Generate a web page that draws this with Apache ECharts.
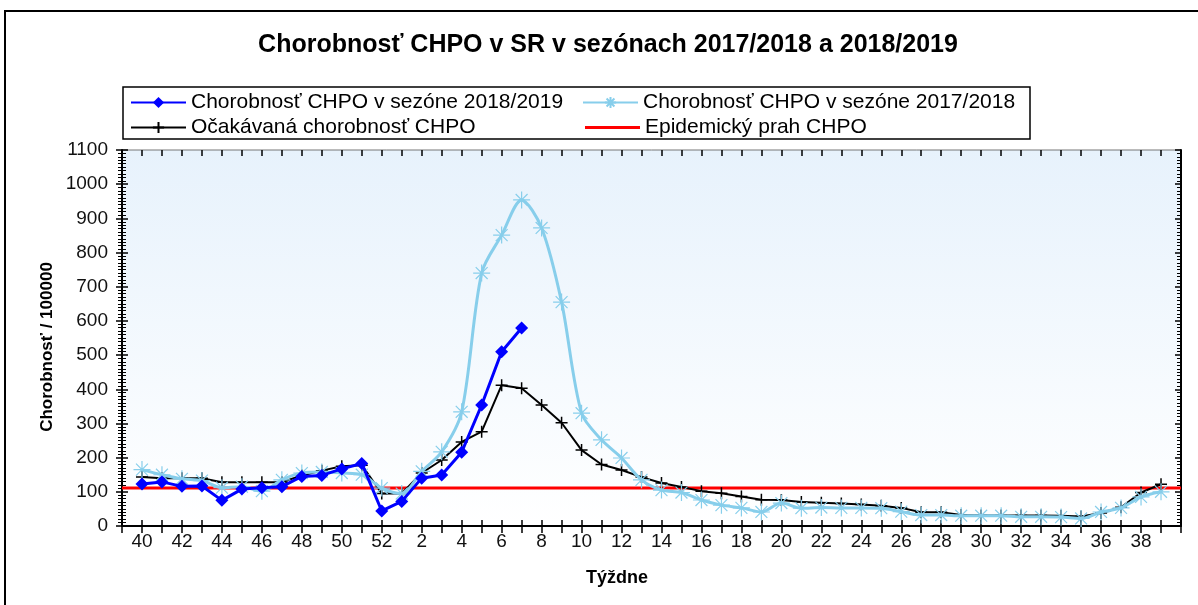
<!DOCTYPE html>
<html>
<head>
<meta charset="utf-8">
<script src="https://cdn.jsdelivr.net/npm/echarts@6/dist/echarts.min.js"></script>
<style>
  html, body { margin: 0; padding: 0; background: #fff; }
  #chart { width: 1198px; height: 605px; }
</style>
</head>
<body>
<div id="chart"></div>
<script>
// week labels, season runs from week 40 to week 39
const weeks = [40, 41, 42, 43, 44, 45, 46, 47, 48, 49, 50, 51, 52,
    1, 2, 3, 4, 5, 6, 7, 8, 9, 10, 11, 12, 13, 14, 15, 16, 17, 18, 19, 20,
    21, 22, 23, 24, 25, 26, 27, 28, 29, 30, 31, 32, 33, 34, 35, 36, 37, 38, 39];

// Chorobnosť CHPO v sezóne 2018/2019 (up to week 7)
const season1819 = [123, 129, 116, 117, 75, 108, 112, 115, 145, 148, 167, 183, 44,
    72, 140, 149, 216, 354, 510, 579];

// Chorobnosť CHPO v sezóne 2017/2018
const season1718 = [165, 150, 138, 133, 112, 115, 102, 135, 155, 158, 155, 150, 111,
    95, 160, 217, 334, 740, 851, 954, 872, 655, 330, 252, 199, 135, 105, 98, 76, 61,
    53, 41, 67, 52, 54, 53, 53, 52, 42, 32, 32, 30, 30, 30, 27, 27, 26, 22, 41, 53, 85, 100];

// Očakávaná chorobnosť CHPO
const expected = [143, 140, 140, 140, 128, 128, 128, 128, 148, 162, 175, 178, 95,
    95, 155, 193, 246, 276, 412, 403, 354, 302, 222, 180, 164, 143, 126, 114, 102, 96,
    86, 77, 76, 70, 68, 66, 63, 59, 53, 40, 40, 32, 31, 31, 31, 31, 30, 28, 38, 55, 98, 122];

// Epidemický prah CHPO
const threshold = 111;

const yTicks = { min: 0, max: 1100, interval: 100 };

const names = [
    'Chorobnosť CHPO v sezóne 2018/2019',
    'Chorobnosť CHPO v sezóne 2017/2018',
    'Očakávaná chorobnosť CHPO',
    'Epidemický prah CHPO'
];

const xMin = -1, xMax = weeks.length;
const toPairs = arr => arr.map((v, i) => [i, v]);

const myChart = echarts.init(document.getElementById('chart'));

const legendCommon = {
    orient: 'horizontal',
    itemWidth: 55,
    itemHeight: 14,
    padding: 0,
    selectedMode: false,
    textStyle: { fontFamily: 'Arial', fontSize: 21, color: '#000' }
};

const xCommon = {
    type: 'value',
    min: xMin,
    max: xMax,
    interval: 1,
    splitLine: { show: false }
};

const yCommon = {
    type: 'value',
    min: yTicks.min,
    max: yTicks.max,
    interval: yTicks.interval,
    splitLine: { show: false }
};

const tickStyle = { color: '#000', width: 1.5 };
const minorStyle = { color: '#000', width: 1 };

const option = {
    animation: false,
    textStyle: { fontFamily: 'Arial' },
    graphic: [
        {
            type: 'rect',
            shape: { x: 5, y: 11, width: 1250, height: 650 },
            style: { fill: 'none', stroke: '#000', lineWidth: 2 },
            silent: true
        },
        {
            type: 'rect',
            shape: { x: 123, y: 87, width: 907, height: 52 },
            style: { fill: 'none', stroke: '#000', lineWidth: 1.5 },
            silent: true
        },
        {
            type: 'text',
            x: 608,
            y: 45,
            style: {
                text: 'Chorobnosť CHPO v SR v sezónach 2017/2018 a 2018/2019',
                font: 'bold 25px Arial',
                fill: '#000',
                align: 'center',
                verticalAlign: 'middle'
            }
        },
        {
            type: 'text',
            x: 617,
            y: 578,
            style: {
                text: 'Týždne',
                font: 'bold 18px Arial',
                fill: '#000',
                align: 'center',
                verticalAlign: 'middle'
            }
        },
        {
            type: 'text',
            x: 47,
            y: 347,
            rotation: Math.PI / 2,
            style: {
                text: 'Chorobnosť / 100000',
                font: 'bold 17px Arial',
                fill: '#000',
                align: 'center',
                verticalAlign: 'middle'
            }
        }
    ],
    legend: [
        Object.assign({ data: [names[0]], left: 130, top: 92 }, legendCommon),
        Object.assign({ data: [names[1]], left: 582, top: 92 }, legendCommon),
        Object.assign({ data: [names[2]], left: 130, top: 117 }, legendCommon),
        Object.assign({}, legendCommon, {
            data: [{ name: names[3], icon: 'rect' }],
            left: 585,
            top: 117,
            itemHeight: 3
        })
    ],
    grid: {
        left: 122,
        right: 17,
        top: 150,
        bottom: 79,
        show: true,
        borderColor: '#777',
        borderWidth: 1,
        backgroundColor: {
            type: 'linear', x: 0, y: 0, x2: 0, y2: 1,
            colorStops: [
                { offset: 0, color: '#e7f2fc' },
                { offset: 1, color: '#ffffff' }
            ]
        }
    },
    xAxis: [
        Object.assign({
            position: 'bottom',
            axisLine: { show: true, onZero: false, lineStyle: { color: '#000', width: 2 } },
            axisTick: { show: true, length: 7, lineStyle: tickStyle },
            axisLabel: {
                margin: 6,
                fontSize: 19,
                color: '#111',
                showMinLabel: true,
                showMaxLabel: true,
                formatter: v => (v >= 0 && v < weeks.length && v % 2 === 0) ? String(weeks[v]) : ''
            }
        }, xCommon),
        Object.assign({
            position: 'bottom',
            axisLine: { show: false, onZero: false },
            axisTick: { show: true, inside: true, length: 6, lineStyle: tickStyle },
            axisLabel: { show: false }
        }, xCommon),
        Object.assign({
            position: 'top',
            axisLine: { show: false, onZero: false },
            axisTick: { show: true, inside: true, length: 6, lineStyle: tickStyle },
            axisLabel: { show: false }
        }, xCommon)
    ],
    yAxis: [
        Object.assign({
            position: 'left',
            axisLine: { show: true, onZero: false, lineStyle: { color: '#000', width: 2 } },
            axisTick: { show: true, length: 6, lineStyle: tickStyle },
            minorTick: { show: true, splitNumber: 10, length: 4, lineStyle: minorStyle },
            axisLabel: { margin: 14, fontSize: 19, color: '#111', formatter: v => String(v) }
        }, yCommon),
        Object.assign({
            position: 'left',
            axisLine: { show: false, onZero: false },
            axisTick: { show: true, inside: true, length: 6, lineStyle: tickStyle },
            minorTick: { show: true, splitNumber: 10, length: 4, lineStyle: minorStyle },
            axisLabel: { show: false }
        }, yCommon),
        Object.assign({
            position: 'right',
            axisLine: { show: true, onZero: false, lineStyle: { color: '#000', width: 2 } },
            axisTick: { show: true, inside: true, length: 6, lineStyle: tickStyle },
            minorTick: { show: true, splitNumber: 10, length: 4, lineStyle: minorStyle },
            axisLabel: { show: false }
        }, yCommon)
    ],
    series: [
        {
            name: names[3],
            type: 'line',
            data: [[xMin, threshold], [xMax, threshold]],
            symbol: 'none',
            lineStyle: { color: '#ff0000', width: 3 },
            itemStyle: { color: '#ff0000' },
            z: 2
        },
        {
            name: names[2],
            type: 'line',
            data: toPairs(expected),
            symbol: 'path://M-6,0L6,0M0,-6L0,6',
            symbolSize: 12,
            lineStyle: { color: '#000', width: 2 },
            itemStyle: { color: '#000', borderColor: '#000', borderWidth: 1.5 },
            z: 3
        },
        {
            name: names[1],
            type: 'line',
            data: toPairs(season1718),
            smooth: 0.3,
            symbol: 'path://M0,-10L0,10M-10,0L10,0M-7,-7L7,7M-7,7L7,-7',
            symbolSize: 17,
            lineStyle: { color: '#87ceeb', width: 3 },
            itemStyle: { color: '#87ceeb', borderColor: '#87ceeb', borderWidth: 1.2 },
            z: 4
        },
        {
            name: names[0],
            type: 'line',
            data: toPairs(season1819),
            symbol: 'diamond',
            symbolSize: 13,
            lineStyle: { color: '#0000ff', width: 3 },
            itemStyle: { color: '#0000ff', borderWidth: 0 },
            z: 5
        }
    ]
};

option && myChart.setOption(option);
</script>
</body>
</html>
